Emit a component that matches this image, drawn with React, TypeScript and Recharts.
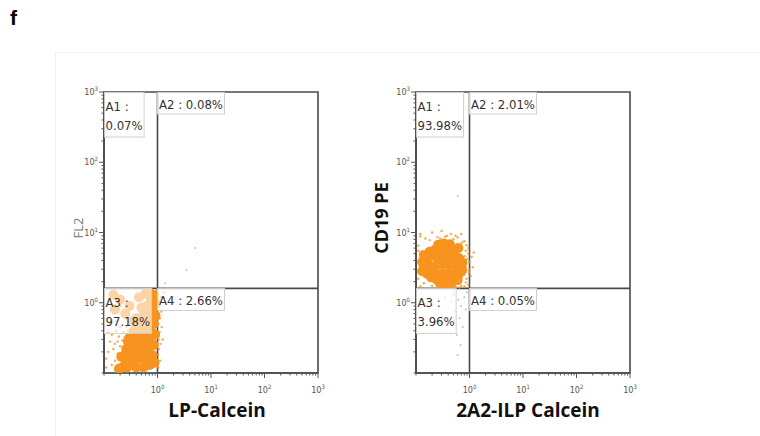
import { ScatterChart, Scatter, XAxis, YAxis, ReferenceLine, ReferenceArea } from "recharts"

// flow plots, log axes 10^-1 .. 10^3
const decadeTicks = [1, 10, 100, 1000]
const minorSteps = [1, 2, 3, 4, 5, 6, 7, 8, 9]
const decades = [0.1, 1, 10, 100]

// left panel: LP-Calcein vs FL2
const lpCore: [number, number][] = [
  [0.85, 1.3], [0.9, 1.0], [0.75, 1.1], [0.8, 0.8], [0.92, 0.65], [0.7, 0.7], [0.85, 0.5],
  [0.65, 0.55], [0.75, 0.4], [0.9, 0.35], [0.6, 0.4], [0.7, 0.3], [0.85, 0.25], [0.55, 0.3],
  [0.65, 0.22], [0.8, 0.18], [0.5, 0.22], [0.6, 0.16], [0.72, 0.13], [0.45, 0.16], [0.5, 0.4],
  [0.42, 0.28], [0.38, 0.2], [0.35, 0.14], [0.55, 0.12], [0.4, 0.12], [0.3, 0.17], [0.32, 0.25],
  [0.45, 0.5], [0.55, 0.65], [0.62, 0.9], [0.88, 0.14], [0.27, 0.12], [0.48, 0.33], [0.58, 0.5],
  [0.22, 0.12], [0.19, 0.115], [0.24, 0.16], [0.26, 0.22], [0.3, 0.32], [0.36, 0.4], [0.4, 0.6],
  [0.3, 0.9], [0.45, 1.2], [0.6, 1.35], [0.2, 1.1], [0.25, 0.7], [0.16, 0.8], [0.35, 0.55],
  [0.5, 0.85], [0.7, 1.4], [0.15, 1.3], [0.21, 0.17], [0.28, 0.28], [0.33, 0.19], [0.37, 0.3],
  [0.44, 0.21], [0.52, 0.17], [0.66, 0.34], [0.78, 0.26], [0.62, 0.27], [0.8, 0.6], [0.68, 0.45],
]
const lpSparse: [number, number][] = [
  [0.12, 0.2], [0.14, 0.35], [0.13, 0.5], [0.16, 0.15], [0.18, 0.28], [0.2, 0.45], [0.15, 0.7],
  [0.22, 0.2], [0.24, 0.32], [0.19, 0.13], [0.26, 0.6], [0.11, 0.12], [0.17, 0.55], [0.21, 0.9],
  [0.23, 0.14], [0.28, 0.4], [0.3, 0.8], [1.05, 0.3], [1.1, 0.6], [1.08, 0.9], [1.15, 1.2],
  [1.02, 0.18], [1.2, 0.45], [1.12, 0.15], [0.25, 0.25], [0.13, 0.28], [0.29, 0.11],
  [0.11, 0.16], [0.12, 0.38], [0.15, 0.22], [0.17, 0.4], [0.14, 0.13], [0.19, 0.33], [0.16, 0.26],
  [1.04, 0.5], [1.06, 0.22], [1.18, 0.75], [1.3, 1.4], [1.25, 0.3], [0.2, 0.24], [0.23, 0.38],
  [0.26, 0.45], [0.18, 0.19], [0.22, 0.29], [1.03, 0.12], [1.09, 0.38], [1.14, 0.26],
]
const lpGrey: [number, number][] = [[5.1, 6.0], [3.5, 2.9], [1.4, 1.9]]
const lpQuadrants = ["0.07%", "0.08%", "97.18%", "2.66%"]

// right panel: 2A2-ILP Calcein vs CD19 PE
const ilpCore: [number, number][] = [
  [0.33, 3.5], [0.25, 3.5], [0.42, 3.5], [0.18, 3.4], [0.55, 3.4], [0.68, 3.3], [0.14, 3.2],
  [0.3, 2.6], [0.4, 2.6], [0.22, 2.7], [0.52, 2.6], [0.64, 2.6], [0.16, 2.6],
  [0.3, 4.6], [0.4, 4.6], [0.22, 4.6], [0.52, 4.5], [0.64, 4.3], [0.16, 4.3],
  [0.3, 2.05], [0.4, 2.0], [0.24, 2.15], [0.5, 2.1], [0.19, 2.3],
  [0.3, 5.9], [0.42, 5.8], [0.22, 5.6], [0.53, 5.5], [0.18, 5.3],
  [0.33, 7.0], [0.26, 6.7], [0.43, 6.8], [0.36, 1.85], [0.28, 1.9], [0.45, 1.85],
  [0.13, 3.8], [0.13, 2.8], [0.74, 3.7], [0.73, 2.9], [0.14, 4.8], [0.6, 2.1], [0.62, 6.0],
]
const ilpSparse: [number, number][] = [
  [0.12, 9.5], [0.2, 10], [0.3, 10.5], [0.45, 9.5], [0.6, 8.5], [0.8, 7.5], [0.95, 6],
  [1.1, 4.5], [1.15, 3.2], [1.05, 2.4], [0.95, 1.8], [0.85, 5.5], [0.7, 9.5], [0.15, 8.2],
  [0.11, 6.5], [0.9, 4.2], [1.0, 3.0], [0.88, 2.2], [0.38, 9.0], [0.55, 9.0], [0.25, 8.6],
  [0.8, 1.7], [0.12, 1.7], [0.14, 1.9], [1.2, 5.2], [0.65, 1.65],
  [0.18, 7.8], [0.28, 8.2], [0.5, 8.0], [0.72, 7.2], [0.88, 6.6], [0.95, 5.0], [1.0, 3.8],
  [0.98, 2.7], [0.85, 1.95], [0.7, 1.75], [0.55, 1.7], [0.2, 1.75], [0.11, 2.2], [0.11, 5.5],
  [0.82, 4.6], [0.85, 3.2], [0.8, 2.5], [0.12, 8.8], [0.35, 8.7],
]
const ilpGrey: [number, number][] = [
  [0.5, 1.3], [0.62, 1.1], [0.7, 0.9], [0.55, 0.75], [0.8, 1.2], [0.45, 1.05], [0.65, 0.6],
  [0.75, 0.45], [0.58, 0.35], [0.68, 0.25], [0.5, 0.55], [0.85, 0.8], [0.9, 1.4], [0.6, 0.18],
  [0.35, 1.2], [0.6, 33],
]
const ilpQuadrants = ["93.98%", "2.01%", "3.96%", "0.05%"]

const gateX = 1
const gateY = 1.6

const ORANGE = "#f7931e"
const FRAME = "#4a4a4a"
const LABEL_FONT = "'DejaVu Sans Condensed', 'Liberation Sans Narrow', sans-serif"
const LABEL_SIZE = 13
const TITLE_FONT = "'Open Sans', 'DejaVu Sans', sans-serif"

const allTicks: number[] = []
decades.forEach((d) => minorSteps.forEach((m) => allTicks.push(+(m * d).toPrecision(3))))
allTicks.push(1000)

const toPts = (arr: [number, number][]) => arr.map(([x, y]) => ({ x, y }))

// rough glyph widths (em) for the condensed label font
const glyphW: Record<string, number> = { ".": 0.286, "%": 0.855, A: 0.616, ":": 0.303, " ": 0.286 }
const textWidth = (s: string) =>
  s.split("").reduce((sum, ch) => sum + (glyphW[ch] ?? 0.572), 0) * LABEL_SIZE

function tickInfo(v: number) {
  const exp = Math.round(Math.log10(v))
  const major = decadeTicks.includes(v)
  return { exp, major }
}

function YTick(props: any) {
  const { x, y, payload } = props
  const { exp, major } = tickInfo(payload.value)
  return (
    <g>
      <line x1={x} x2={x - (major ? 5 : 2.5)} y1={y} y2={y} stroke="#555" strokeWidth={1} />
      {major && (
        <text x={x - 6} y={y + 3} textAnchor="end" fontSize={9} fill="#555" fontFamily={LABEL_FONT}>
          10<tspan dy={-4} fontSize={6}>{exp}</tspan>
        </text>
      )}
    </g>
  )
}

function XTick(props: any) {
  const { x, y, payload } = props
  const { exp, major } = tickInfo(payload.value)
  return (
    <g>
      <line x1={x} x2={x} y1={y} y2={y + (major ? 5 : 2.5)} stroke="#555" strokeWidth={1} />
      {major && (
        <text x={x} y={y + 20} textAnchor="middle" fontSize={9} fill="#555" fontFamily={LABEL_FONT}>
          10<tspan dy={-4} fontSize={6}>{exp}</tspan>
        </text>
      )}
    </g>
  )
}

function QuadLabel(props: any) {
  const { cx, cy, payload } = props
  const lines: string[] = payload.lines
  const w = Math.max(...lines.map(textWidth)) + 3
  const h = lines.length > 1 ? 45 : 22
  return (
    <g>
      <rect x={cx} y={cy} width={w} height={h} fill="#fff" fillOpacity={0.6} stroke="#cfcfcf" strokeWidth={1} />
      {lines.map((l, i) => (
        <text key={i} x={cx + 1.5} y={cy + (lines.length > 1 ? 19 + i * 19 : 17)} fontSize={LABEL_SIZE} fill="#333" fontFamily={LABEL_FONT}>
          {l}
        </text>
      ))}
    </g>
  )
}

function AxisTitle(props: any) {
  const { tx, ty, text, rotate, bold, size, color } = props
  return (
    <text
      x={tx}
      y={ty}
      textAnchor="middle"
      dominantBaseline={rotate ? "central" : "auto"}
      transform={rotate ? `rotate(-90 ${tx} ${ty})` : undefined}
      fontSize={size}
      fontWeight={bold ? 700 : 400}
      fill={color}
      fontFamily={TITLE_FONT}
    >
      {text}
    </text>
  )
}

function FlowPlot(props: any) {
  const { width, yAxisWidth, core, sparse, grey, quads, xTitle, yTitle, floor } = props
  const right = width - yAxisWidth - 214
  const names = ["A1", "A2", "A3", "A4"]
  const anchorX = [0.1, gateX, 0.1, gateX]
  const anchorY = [1000, 1000, gateY, gateY]
  const labels = names.map((n, i) => ({
    x: anchorX[i],
    y: anchorY[i],
    lines: i % 2 === 0 ? [n + " :", quads[i]] : [n + " : " + quads[i]],
  }))
  return (
    <ScatterChart width={width} height={436} margin={{ top: 92, right, bottom: 0, left: 0 }}>
      <XAxis
        type="number"
        dataKey="x"
        scale="log"
        domain={[0.1, 1000]}
        allowDataOverflow
        ticks={allTicks}
        interval={0}
        tick={<XTick />}
        tickLine={false}
        tickSize={0}
        tickMargin={0}
        height={63}
        axisLine={{ stroke: FRAME, strokeWidth: 1.6 }}
        label={<AxisTitle {...xTitle} />}
      />
      <YAxis
        type="number"
        dataKey="y"
        scale="log"
        domain={[0.1, 1000]}
        allowDataOverflow
        ticks={allTicks}
        interval={0}
        tick={<YTick />}
        tickLine={false}
        tickSize={0}
        tickMargin={0}
        width={yAxisWidth}
        axisLine={{ stroke: FRAME, strokeWidth: 1.6 }}
        label={<AxisTitle {...yTitle} />}
      />
      <ReferenceArea x1={0.1} x2={1000} y1={0.1} y2={1000} fill="none" stroke={FRAME} strokeWidth={1.6} />
      <Scatter data={toPts(grey)} isAnimationActive={false} shape={(p: any) => <circle cx={p.cx} cy={p.cy} r={1} fill="#999" fillOpacity={0.6} />} />
      <Scatter data={toPts(sparse)} isAnimationActive={false} shape={(p: any) => <circle cx={p.cx} cy={p.cy} r={1.2} fill={ORANGE} fillOpacity={0.8} />} />
      <Scatter data={toPts(core)} isAnimationActive={false} shape={(p: any) => <circle cx={p.cx} cy={p.cy} r={5} fill={ORANGE} />} />
      {floor && (
        <ReferenceLine segment={[{ x: 0.1, y: 0.1 }, { x: gateX, y: 0.1 }]} stroke="#5cc8d8" strokeWidth={2} />
      )}
      <ReferenceLine x={gateX} stroke={FRAME} strokeWidth={1.6} />
      <ReferenceLine y={gateY} stroke={FRAME} strokeWidth={1.6} />
      <Scatter data={labels} isAnimationActive={false} shape={(p: any) => <QuadLabel {...p} />} />
    </ScatterChart>
  )
}

export default function App() {
  return (
    <div style={{ position: "absolute", left: 0, top: 0, width: 760, height: 436, background: "#fff", overflow: "hidden" }}>
      <div style={{ position: "absolute", left: 55, top: 52, width: 705, height: 384, borderLeft: "1px solid #f2f2f2", borderTop: "1px solid #f2f2f2" }} />
      <div style={{ position: "absolute", left: 10, top: 6, fontFamily: "'Liberation Sans', Arial, sans-serif", fontWeight: 700, fontSize: 21 }}>f</div>
      <div style={{ position: "absolute", left: 0, top: 0 }}>
        <FlowPlot
          width={350}
          yAxisWidth={104}
          core={lpCore}
          sparse={lpSparse}
          grey={lpGrey}
          quads={lpQuadrants}
          floor
          xTitle={{ tx: 217, ty: 417, text: "LP-Calcein", size: 19, bold: true, color: "#111" }}
          yTitle={{ tx: 78, ty: 228, text: "FL2", rotate: true, size: 13, color: "#777" }}
        />
      </div>
      <div style={{ position: "absolute", left: 350, top: 0 }}>
        <FlowPlot
          width={380}
          yAxisWidth={66}
          core={ilpCore}
          sparse={ilpSparse}
          grey={ilpGrey}
          quads={ilpQuadrants}
          xTitle={{ tx: 178, ty: 417, text: "2A2-ILP Calcein", size: 19, bold: true, color: "#111" }}
          yTitle={{ tx: 31, ty: 218, text: "CD19 PE", rotate: true, size: 18, bold: true, color: "#111" }}
        />
      </div>
    </div>
  )
}
